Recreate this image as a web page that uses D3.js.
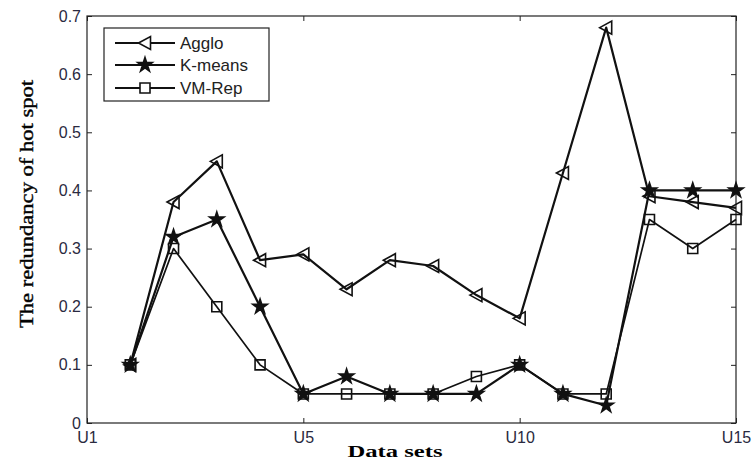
<!DOCTYPE html>
<html><head><meta charset="utf-8">
<script src="https://cdn.jsdelivr.net/npm/d3@7"></script>
<style>body{margin:0;background:#fff}svg{display:block}</style>
</head><body>
<svg id="c" width="754" height="468"></svg>
<script>
const xTickValues = [0, 5, 10, 15];
const xTickLabels = ["U1", "U5", "U10", "U15"];
const yTicks = [0, 0.1, 0.2, 0.3, 0.4, 0.5, 0.6, 0.7];
const dataSets = [1,2,3,4,5,6,7,8,9,10,11,12,13,14,15];
const agglo  = [0.10,0.38,0.45,0.28,0.29,0.23,0.28,0.27,0.22,0.18,0.43,0.68,0.39,0.38,0.37];
const kmeans = [0.10,0.32,0.35,0.20,0.05,0.08,0.05,0.05,0.05,0.10,0.05,0.03,0.40,0.40,0.40];
const vmrep  = [0.10,0.30,0.20,0.10,0.05,0.05,0.05,0.05,0.08,0.10,0.05,0.05,0.35,0.30,0.35];
const seriesNames = ["Agglo", "K-means", "VM-Rep"];

const svg = d3.select("#c");
const L = 87, R = 736, T = 16, B = 423;
const x = d3.scaleLinear().domain([0, 15]).range([L, R]);
const y = d3.scaleLinear().domain([0, 0.7]).range([B, T]);

svg.append("rect").attr("x", L).attr("y", T).attr("width", R - L).attr("height", B - T)
  .attr("fill", "none").attr("stroke", "#222").attr("stroke-width", 1.2);

const tickFont = "Arial, 'Liberation Sans', sans-serif";
const xAxis = svg.append("g").attr("transform", `translate(0,${B})`)
  .call(d3.axisBottom(x).tickValues(xTickValues).tickSizeInner(-5).tickSizeOuter(0)
    .tickFormat((d, i) => xTickLabels[i]));
const yAxis = svg.append("g").attr("transform", `translate(${L},0)`)
  .call(d3.axisLeft(y).tickValues(yTicks).tickSizeInner(-5).tickSizeOuter(0)
    .tickFormat(d => d === 0 ? "0" : d3.format(".1f")(d)));
const xTop = svg.append("g").attr("transform", `translate(0,${T})`)
  .call(d3.axisTop(x).tickValues(xTickValues).tickSizeInner(-5).tickSizeOuter(0).tickFormat(""));
const yRight = svg.append("g").attr("transform", `translate(${R},0)`)
  .call(d3.axisRight(y).tickValues(yTicks).tickSizeInner(-5).tickSizeOuter(0).tickFormat(""));
[xAxis, yAxis, xTop, yRight].forEach(g => {
  g.select(".domain").remove();
  g.selectAll("line").attr("stroke", "#222");
  g.selectAll("text").attr("font-family", tickFont).attr("font-size", 16).attr("fill", "#2a2a40");
});
xAxis.selectAll("text").attr("y", 9).attr("dy", "0.71em");
yAxis.selectAll("text").attr("x", -6);

svg.append("text").attr("x", 395).attr("y", 457).attr("text-anchor", "middle")
  .attr("font-family", "'Liberation Serif', 'Times New Roman', serif").attr("font-weight", "bold")
  .attr("font-size", 17).attr("textLength", 95).attr("lengthAdjust", "spacingAndGlyphs").text("Data sets");
svg.append("text").attr("transform", "translate(33,204) rotate(-90)").attr("text-anchor", "middle")
  .attr("font-family", "'Liberation Serif', 'Times New Roman', serif")
  .attr("font-size", 18).attr("textLength", 248).attr("lengthAdjust", "spacingAndGlyphs")
  .attr("stroke", "#111").attr("stroke-width", 0.4)
  .text("The redundancy of hot spot");

const triPath = "M-6.5,0 L5.5,-6.5 L5.5,6.5 Z";
const starPath = d3.symbol(d3.symbolStar, 65)();
const sqPath = "M-5,-5 H5 V5 H-5 Z";
const styles = [
  {vals: agglo, path: triPath, fill: "none", lw: 2.2},
  {vals: kmeans, path: starPath, fill: "#111", lw: 2.2},
  {vals: vmrep, path: sqPath, fill: "none", lw: 1.7}
];
const line = d3.line().x((d, i) => x(dataSets[i])).y(d => y(d));
styles.forEach(s => {
  const g = svg.append("g");
  g.append("path").attr("d", line(s.vals)).attr("fill", "none").attr("stroke", "#111")
    .attr("stroke-width", s.lw).attr("stroke-linejoin", "round");
  g.selectAll("path.m").data(s.vals).join("path").attr("class", "m")
    .attr("transform", (d, i) => `translate(${x(dataSets[i])},${y(d)})`)
    .attr("d", s.path).attr("fill", s.fill).attr("stroke", "#111").attr("stroke-width", 1.6);
});

const lg = svg.append("g");
lg.append("rect").attr("x", 104).attr("y", 28).attr("width", 165).attr("height", 73)
  .attr("fill", "#fff").attr("stroke", "#222").attr("stroke-width", 1.2);
const rowY = [43, 65, 88];
seriesNames.forEach((n, i) => {
  lg.append("line").attr("x1", 115).attr("x2", 175).attr("y1", rowY[i]).attr("y2", rowY[i])
    .attr("stroke", "#111").attr("stroke-width", 2);
  lg.append("path").attr("transform", `translate(145,${rowY[i]})`).attr("d", styles[i].path)
    .attr("fill", styles[i].fill === "none" ? "#fff" : styles[i].fill).attr("stroke", "#111").attr("stroke-width", 1.6);
  lg.append("text").attr("x", 180).attr("y", rowY[i]).attr("dy", "0.35em")
    .attr("font-family", tickFont).attr("font-size", 17).attr("fill", "#222").text(n);
});
</script>
</body></html>
